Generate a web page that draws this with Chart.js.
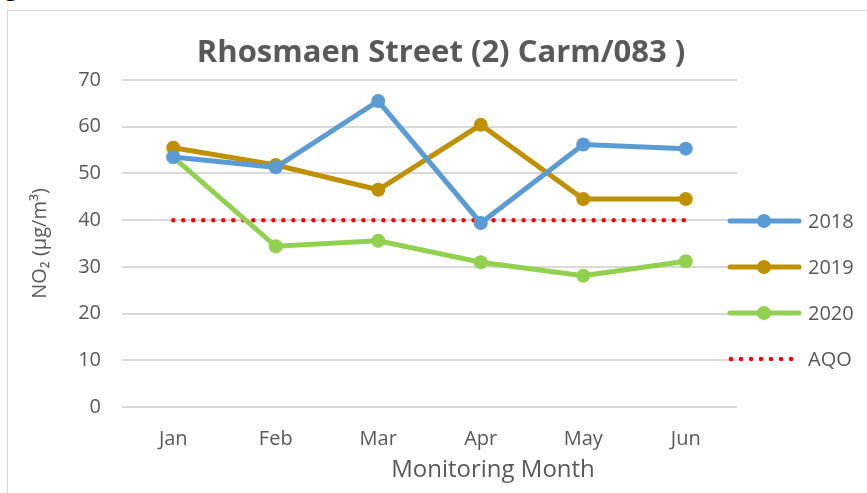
<!DOCTYPE html>
<html>
<head>
<meta charset="utf-8">
<script src="https://cdn.jsdelivr.net/npm/chart.js@4"></script>
<style>
  body { margin: 0; background: #fff; overflow: hidden; }
  #wrap { position: relative; width: 867px; height: 493px; }
  #frame { position: absolute; left: 7px; top: 10px; width: 880px; height: 500px; border: 1.5px solid #d9d9d9; box-sizing: border-box; }
  #cut { position: absolute; left: 2px; top: -30px; font: bold 30px "Liberation Sans", sans-serif; color: #000; line-height: 30px; }
  canvas { position: absolute; left: 0; top: 0; }
</style>
</head>
<body>
<div id="wrap">
  <div id="cut">g</div>
  <div id="frame"></div>
  <canvas id="c" width="867" height="493"></canvas>
</div>
<script>
// data
const months = ['Jan', 'Feb', 'Mar', 'Apr', 'May', 'Jun'];
const y2018 = [53.5, 51.3, 65.5, 39.4, 56.2, 55.3];
const y2019 = [55.5, 51.8, 46.5, 60.4, 44.5, 44.5];
const y2020 = [53.5, 34.4, 35.6, 31.0, 28.1, 31.2];
const aqo = [40, 40, 40, 40, 40, 40];
const yTicks = [0, 10, 20, 30, 40, 50, 60, 70];

const FONT = '"Open Sans", sans-serif';
const GREY = '#595959';

function lineSet(label, data, color) {
  return {
    label, data,
    borderColor: color, backgroundColor: color,
    borderWidth: 5, pointRadius: 7, pointHoverRadius: 7,
    pointBorderWidth: 0, tension: 0
  };
}

// title, x-axis title and legend drawn on canvas from dataset styles
const decor = {
  id: 'decor',
  afterDraw(chart) {
    const ctx = chart.ctx;
    ctx.save();
    ctx.fillStyle = GREY;
    ctx.font = 'bold 31px ' + FONT;
    ctx.textAlign = 'center';
    ctx.textBaseline = 'middle';
    ctx.fillText('Rhosmaen Street (2) Carm/083 )', 441, 53);

    ctx.font = '24px ' + FONT;
    ctx.fillText('Monitoring Month', 493, 470);

    chart.data.datasets.forEach((ds, i) => {
      const y = 221 + i * 46;
      ctx.strokeStyle = ds.borderColor;
      ctx.lineWidth = ds.borderWidth;
      ctx.lineCap = 'round';
      ctx.setLineDash(ds.borderDash || []);
      ctx.beginPath();
      ctx.moveTo(ds.borderDash ? 731 : 730, y);
      ctx.lineTo(ds.borderDash ? 796 : 799, y);
      ctx.stroke();
      ctx.setLineDash([]);
      if (ds.pointRadius > 0) {
        ctx.fillStyle = ds.borderColor;
        ctx.beginPath();
        ctx.arc(764, y, ds.pointRadius, 0, Math.PI * 2);
        ctx.fill();
      }
      ctx.fillStyle = GREY;
      ctx.font = '20px ' + FONT;
      ctx.textAlign = 'left';
      ctx.fillText(ds.label, 808, y + 1);
    });
    ctx.restore();
  }
};

new Chart(document.getElementById('c'), {
  type: 'line',
  data: {
    labels: months,
    datasets: [
      lineSet('2018', y2018, '#5B9BD5'),
      lineSet('2019', y2019, '#BF9000'),
      lineSet('2020', y2020, '#92D050'),
      {
        label: 'AQO', data: aqo,
        borderColor: '#FF0000', borderWidth: 4.5,
        borderDash: [0.01, 10], borderCapStyle: 'round',
        pointRadius: 0, tension: 0
      }
    ]
  },
  options: {
    responsive: false,
    animation: false,
    layout: { padding: { top: 80, right: 130, left: 0, bottom: 0 } },
    plugins: { legend: { display: false }, title: { display: false }, tooltip: { enabled: false } },
    scales: {
      x: {
        offset: true,
        grid: { display: false, drawTicks: false },
        border: { display: false },
        ticks: { color: GREY, font: { family: FONT, size: 20 }, padding: 20 },
        afterFit(scale) { scale.height = 86; }
      },
      y: {
        min: 0, max: 70,
        afterBuildTicks(scale) { scale.ticks = yTicks.map(v => ({ value: v })); },
        grid: { color: '#d9d9d9', lineWidth: 2, drawTicks: false },
        border: { display: false },
        ticks: { color: GREY, font: { family: FONT, size: 20 }, padding: 21 },
        title: { display: true, text: 'NO₂ (µg/m³)', color: GREY, font: { family: FONT, size: 20 }, padding: { top: 28, bottom: 0 } },
        afterFit(scale) { scale.width = 122; }
      }
    }
  },
  plugins: [decor]
});
</script>
</body>
</html>
